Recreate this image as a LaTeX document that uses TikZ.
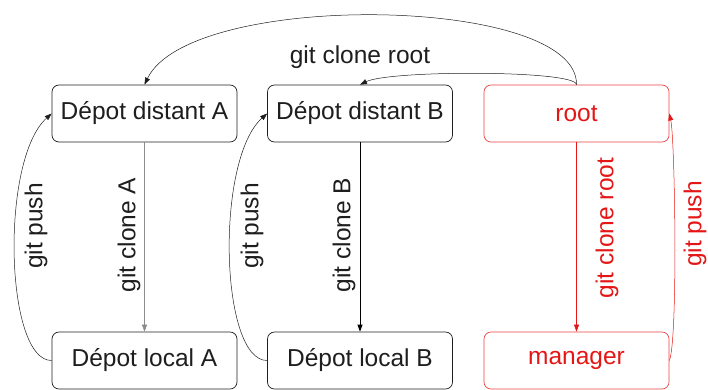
\documentclass[tikz,border=0pt]{standalone}
\usepackage{fontspec}
\setmainfont{Liberation Sans}
\usetikzlibrary{arrows.meta}
\definecolor{rred}{RGB}{228,22,22}
\definecolor{ink}{RGB}{30,30,30}
\tikzset{
  box/.style={draw=ink, line width=0.7pt, rounded corners=7pt, minimum width=185pt, minimum height=57pt, inner sep=0pt, text=ink, font=\fontsize{24.5}{28}\selectfont},
  redbox/.style={box, draw=rred!80, text=rred},
  lbl/.style={font=\fontsize{24.5}{28}\selectfont, text=ink, inner sep=0pt, rotate=90},
  hlbl/.style={font=\fontsize{24.5}{28}\selectfont, text=ink, inner sep=0pt},
  conn/.style={line width=0.5pt, draw=ink, -{Triangle[length=7pt,width=5pt]}},
}
\begin{document}
\begin{tikzpicture}[x=1pt,y=-1pt]
\useasboundingbox (0,0) rectangle (708,389);
\node[box] (dA) at (144.5,113.5) {Dépot distant A};
\node[box] (dB) at (360,113.5) {Dépot distant B};
\node[redbox] (root) at (576.5,113.5) {root};
\node[box] (lA) at (144.5,360.5) {Dépot local A};
\node[box] (lB) at (360,360.5) {Dépot local B};
\node[redbox] (man) at (576.5,360.5) {manager};

% straight clones
\draw[conn, draw=black!45] (dA.south) -- (lA.north);
\draw[conn, line width=0.9pt, draw=black] (dB.south) -- (lB.north);
\draw[conn, draw=rred] (root.south) -- (man.north);

% pushes
\draw[conn] (lA.west) .. controls (5,361) and (0,160) .. (dA.west);
\draw[conn] (lB.west) .. controls (220,361) and (215,160) .. (dB.west);
\draw[conn, draw=rred] (man.east) .. controls (678,340) and (675,140) .. (root.east);

% top arcs
\draw[conn] (root.north) .. controls (578,-5) and (190,-10) .. (dA.north);
\draw[conn] (root.north) .. controls (576,70) and (390,70) .. (dB.north);

% labels
\node[lbl] (tA) at (129,235) {git clone A};
\node[lbl] (tB) at (344,235) {git clone B};
\node[lbl, text=rred] (tR) at (607,228) {git clone root};
\node[lbl] (pA) at (36,226) {git push};
\node[lbl] (pB) at (252,226) {git push};
\node[lbl, text=rred] (pR) at (695,224) {git push};
\node[hlbl] (tC) at (360,57) {git clone root};
\end{tikzpicture}
\end{document}
